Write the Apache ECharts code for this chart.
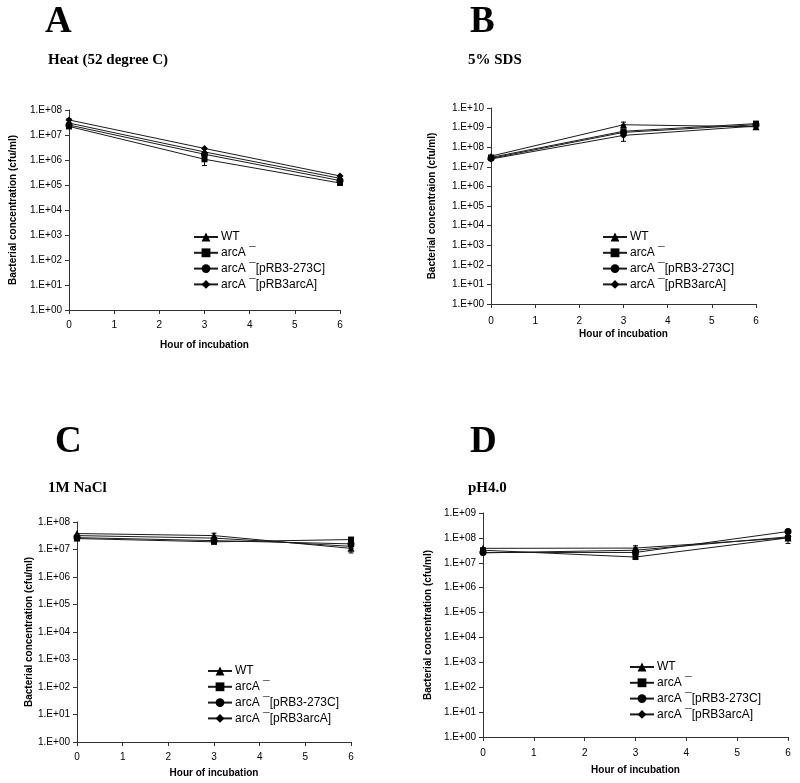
<!DOCTYPE html>
<html>
<head>
<meta charset="utf-8">
<script src="https://cdn.jsdelivr.net/npm/echarts@6/dist/echarts.min.js"></script>
<style>html,body{margin:0;padding:0;background:#fff;}#c{width:800px;height:783px;}</style>
</head>
<body>
<div id="c"></div>
<script>
// ---- data ----
const hours = [0, 3, 6];
const seriesNames = ['WT', 'arcA \u00AF', 'arcA \u00AF[pRB3-273C]', 'arcA \u00AF[pRB3arcA]'];
const symbols = ['triangle', 'rect', 'circle', 'diamond'];

// Panel A: Heat (52 degree C)
const heatWT = [3.0e7, 2.1e6, 1.85e5];
const heatArcA = [2.2e7, 1.07e6, 1.2e5];
const heat273C = [2.5e7, 1.7e6, 1.5e5];
const heatArcAplus = [4.0e7, 2.9e6, 2.3e5];
const heatErr = [[3, 6.0e5, 1.07e6], [0, 3.0e7, 4.5e7]];

// Panel B: 5% SDS
const sdsWT = [3.5e7, 1.4e9, 1.1e9];
const sdsArcA = [3.0e7, 6.5e8, 1.6e9];
const sds273C = [2.7e7, 5.7e8, 1.4e9];
const sdsArcAplus = [2.5e7, 4.0e8, 1.2e9];
const sdsErr = [[3, 2.0e8, 4.0e8], [3, 1.4e9, 1.9e9]];

// Panel C: 1M NaCl
const naclWT = [3.8e7, 3.2e7, 1.1e7];
const naclArcA = [2.5e7, 1.9e7, 2.3e7];
const nacl273C = [2.7e7, 2.1e7, 1.6e7];
const naclArcAplus = [3.2e7, 2.6e7, 1.3e7];
const naclErr = [[3, 1.6e7, 3.9e7], [6, 7.5e6, 1.1e7]];

// Panel D: pH4.0
const phWT = [3.8e7, 3.9e7, 1.0e8];
const phArcA = [3.2e7, 1.7e7, 1.0e8];
const ph273C = [2.6e7, 2.6e7, 1.8e8];
const phArcAplus = [2.5e7, 3.2e7, 1.1e8];
const phErr = [[6, 6.0e7, 1.0e8], [3, 3.9e7, 4.8e7]];

// y-axis maxima per panel
const yMax = [1e8, 1e10, 1e8, 1e9];
const yLabels = ['Bacterial concentration (cfu/ml)', 'Bacterial concentraion (cfu/ml)',
                 'Bacterial concentration (cfu/ml)', 'Bacterial concentration (cfu/ml)'];
const xLabel = 'Hour of incubation';
const panelLetters = ['A', 'B', 'C', 'D'];
const panelTitles = ['Heat (52 degree C)', '5% SDS', '1M NaCl', 'pH4.0'];

// ---- layout ----
const panels = [
  { data: [heatWT, heatArcA, heat273C, heatArcAplus], err: heatErr,
    grid: { left: 69, top: 110, width: 271, height: 200 }, yGap: 51, xGap: 30, xMargin: 10,
    legend: { left: 193, top: 231 }, letter: { left: 45, top: 4 }, title: { left: 48, top: 53 } },
  { data: [sdsWT, sdsArcA, sds273C, sdsArcAplus], err: sdsErr,
    grid: { left: 491, top: 108, width: 265, height: 196 }, yGap: 54, xGap: 25, xMargin: 12,
    legend: { left: 602, top: 231 }, letter: { left: 470, top: 4 }, title: { left: 468, top: 53 } },
  { data: [naclWT, naclArcA, nacl273C, naclArcAplus], err: naclErr,
    grid: { left: 77, top: 522, width: 274, height: 220 }, yGap: 43, xGap: 26, xMargin: 10,
    legend: { left: 207, top: 665 }, letter: { left: 55, top: 424 }, title: { left: 48, top: 481 } },
  { data: [phWT, phArcA, ph273C, phArcAplus], err: phErr,
    grid: { left: 483, top: 513, width: 305, height: 224 }, yGap: 50, xGap: 28, xMargin: 11,
    legend: { left: 629, top: 661 }, letter: { left: 470, top: 424 }, title: { left: 468, top: 481 } }
];

const sans = 'Liberation Sans, Arial, sans-serif';
const serif = 'Liberation Serif, Times New Roman, serif';
const axisColor = '#333';

const grids = [], xAxes = [], yAxes = [], series = [], legends = [], titles = [];
panels.forEach((p, i) => {
  grids.push(Object.assign({ containLabel: false, outerBoundsMode: 'none' }, p.grid));
  xAxes.push({
    type: 'value', gridIndex: i, min: 0, max: 6, interval: 1,
    name: xLabel, nameLocation: 'middle', nameGap: p.xGap,
    nameTextStyle: { fontFamily: sans, fontWeight: 'bold', fontSize: 10, color: '#000' },
    axisLine: { lineStyle: { color: axisColor, width: 1 } },
    axisTick: { show: true, inside: false, length: 4, lineStyle: { color: axisColor } },
    axisLabel: { fontFamily: sans, fontSize: 10, color: '#000', margin: p.xMargin },
    splitLine: { show: false }
  });
  yAxes.push({
    type: 'log', logBase: 10, gridIndex: i, min: 1, max: yMax[i], interval: 1,
    name: yLabels[i], nameLocation: 'middle', nameGap: p.yGap,
    nameTextStyle: { fontFamily: sans, fontWeight: 'bold', fontSize: 10, color: '#000' },
    axisLine: { show: true, lineStyle: { color: axisColor, width: 1 } },
    axisTick: { show: true, inside: false, length: 4, lineStyle: { color: axisColor } },
    axisLabel: {
      fontFamily: sans, fontSize: 10, color: '#000', margin: 7,
      formatter: v => '1.E+' + String(Math.round(Math.log10(v))).padStart(2, '0')
    },
    splitLine: { show: false }
  });
  p.data.forEach((vals, k) => {
    series.push({
      type: 'line', name: seriesNames[k], xAxisIndex: i, yAxisIndex: i,
      data: hours.map((h, j) => [h, vals[j]]),
      symbol: symbols[k], symbolSize: k === 1 ? 6 : 7, showAllSymbol: true,
      lineStyle: { color: '#1a1a1a', width: 1 },
      itemStyle: { color: '#000' },
      emphasis: { disabled: true }, animation: false, z: 3
    });
  });
  series.push({
    type: 'custom', xAxisIndex: i, yAxisIndex: i, data: p.err,
    encode: { x: 0, y: [1, 2] }, silent: true, animation: false, z: 2,
    renderItem: (params, api) => {
      const x = api.value(0);
      const lo = api.coord([x, api.value(1)]);
      const hi = api.coord([x, api.value(2)]);
      const style = { stroke: '#000', lineWidth: 1 };
      return { type: 'group', children: [
        { type: 'line', shape: { x1: lo[0], y1: lo[1], x2: hi[0], y2: hi[1] }, style },
        { type: 'line', shape: { x1: lo[0] - 2.5, y1: lo[1], x2: lo[0] + 2.5, y2: lo[1] }, style },
        { type: 'line', shape: { x1: hi[0] - 2.5, y1: hi[1], x2: hi[0] + 2.5, y2: hi[1] }, style }
      ]};
    }
  });
  legends.push({
    orient: 'vertical', left: p.legend.left, top: p.legend.top, padding: 0,
    data: seriesNames, itemWidth: 24, itemHeight: 11, itemGap: 3.8,
    selectedMode: false, inactiveColor: '#000',
    textStyle: { fontFamily: sans, fontSize: 12, color: '#000', padding: [0, 0, 0, -2] }
  });
  titles.push({
    text: panelLetters[i], left: p.letter.left, top: p.letter.top, padding: 0,
    textStyle: { fontFamily: serif, fontWeight: 'bold', fontSize: 37, color: '#000' }
  });
  titles.push({
    text: panelTitles[i], left: p.title.left, top: p.title.top, padding: 0,
    textStyle: { fontFamily: serif, fontWeight: 'bold', fontSize: 15, color: '#000' }
  });
});

const chart = echarts.init(document.getElementById('c'), null, { renderer: 'canvas' });
chart.setOption({
  backgroundColor: '#fff',
  animation: false,
  title: titles,
  grid: grids,
  xAxis: xAxes,
  yAxis: yAxes,
  legend: legends,
  series: series
});
</script>
</body>
</html>
